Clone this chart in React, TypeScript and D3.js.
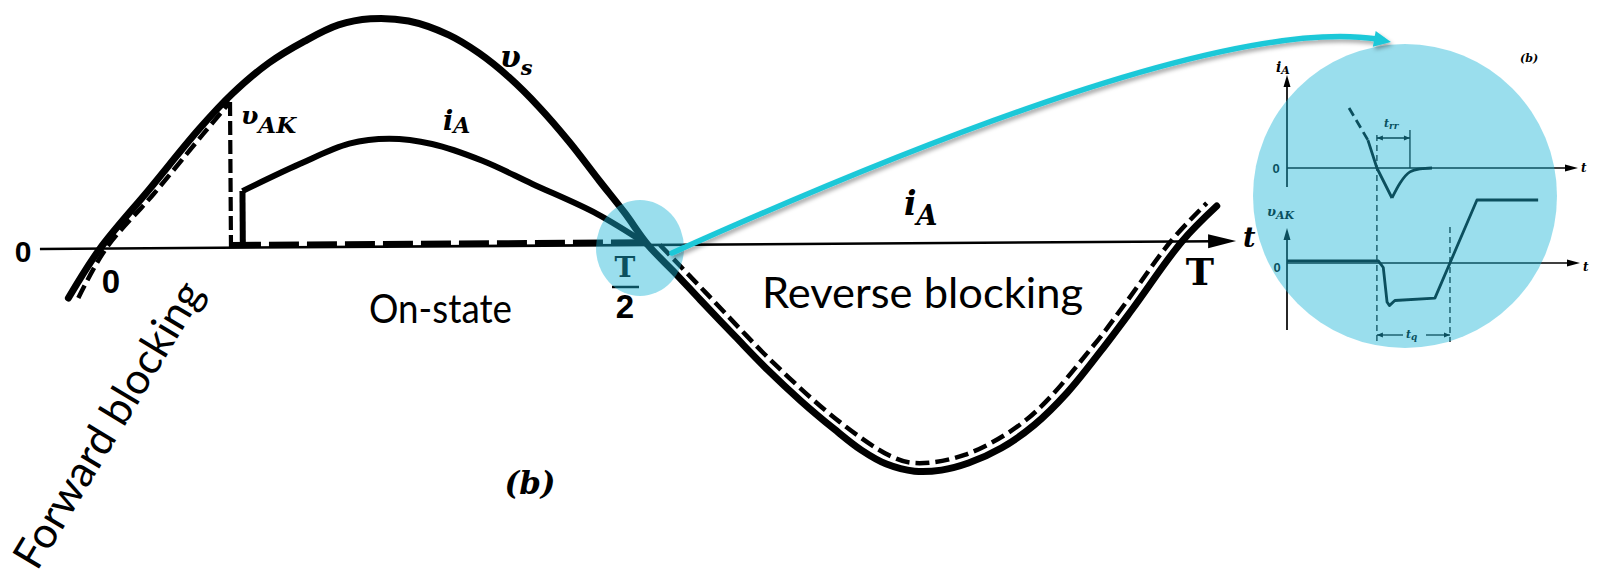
import React from "react";
import * as d3 from "d3";

// One supply period, T = 20 ms. Values are normalised to the peak of v_s.
const vsTime = [-0.59, 0, 0.924, 1.848, 2.458, 3.142, 3.808, 4.436, 5.028, 5.73, 6.47, 7.024, 7.579, 8.133, 8.688, 9.242, 9.704, 10.129,
  10.628, 11.091, 11.738, 12.329, 12.939, 13.549, 14.048, 14.51, 15.028, 15.527, 16.026, 16.636, 17.246, 17.856, 18.484, 19.076, 20.0, 20.647];
const vsValue = [-0.216, 0, 0.26, 0.522, 0.674, 0.809, 0.904, 0.974, 1.0, 0.989, 0.927, 0.847, 0.74, 0.608, 0.454, 0.282, 0.141, 0,
  -0.124, -0.243, -0.406, -0.552, -0.689, -0.813, -0.906, -0.968, -1.0, -0.996, -0.966, -0.901, -0.801, -0.661, -0.479, -0.295, 0, 0.154];

// v_AK while forward blocking (up to the gate pulse)
const vakFwdTime = [-0.407, 0.111, 1.006, 1.922, 2.421];
const vakFwdValue = [-0.216, 0, 0.24, 0.5, 0.639];
const halfPeriod = 10.129;
const vakOnValue = 0.012;
// v_AK while reverse blocking
const vakRevTime = [10.35, 11.213, 12.449, 13.656, 14.592, 15.044, 15.957, 17.129, 18.351, 18.943, 19.791, 20.462];
const vakRevValue = [0, -0.2165, -0.5246, -0.7827, -0.9337, -0.9643, -0.9298, -0.7724, -0.4542, -0.2709, 0, 0.1675];

// Anode current during conduction
const iATime = [2.64, 2.64, 3.7, 4.62, 5.36, 6.15, 7.08, 8.0, 9.19, 10.129];
const iAValue = [0, 0.248, 0.365, 0.453, 0.473, 0.449, 0.374, 0.271, 0.138, 0];

// Turn-off detail (arbitrary time units)
const dIaLeadTime = [21.4, 27.9];
const dIaLeadValue = [2.0, 0.93];
const dIaFallTime = [27.9, 31.0, 36.2];
const dIaFallValue = [0.93, 0, -1.0];
const dIaRecTime = [36.2, 39.0, 42.4, 46.0, 50.0];
const dIaRecValue = [-1.0, -0.5, -0.13, -0.03, 0];
const dVakTime = [0, 31.5, 33.2, 34.5, 35.3, 37.2, 51.0, 65.5, 86.6];
const dVakValue = [0.07, 0.07, -0.15, -1.3, -1.42, -1.25, -1.17, 2.1, 2.1];
const trrStart = 31.0;
const trrEnd = 42.4;
const tqEnd = 56.2;

const W = 1597;
const H = 578;

const x = d3.scaleLinear().domain([0, 20]).range([100, 1182]);
const y = d3.scaleLinear().domain([-1, 1]).range([473, 17]);

const ix = d3.scaleLinear().domain([0, 100]).range([1287, 1577]);
const iyI = d3.scaleLinear().domain([-1, 1]).range([198, 138]);
const iyV = d3.scaleLinear().domain([-1, 1]).range([293, 233]);

type P = [number, number];
const zip = (t: number[], v: number[]): P[] => t.map((d, i) => [d, v[i]]);

const smooth = d3.line<P>().x((d) => x(d[0])).y((d) => y(d[1])).curve(d3.curveCatmullRom.alpha(0.5));
const straight = d3.line<P>().x((d) => x(d[0])).y((d) => y(d[1]));
const insetI = d3.line<P>().x((d) => ix(d[0])).y((d) => iyI(d[1]));
const insetISmooth = d3.line<P>().x((d) => ix(d[0])).y((d) => iyI(d[1])).curve(d3.curveMonotoneX);
const insetV = d3.line<P>().x((d) => ix(d[0])).y((d) => iyV(d[1]));

function head(tx: number, ty: number, dx: number, dy: number, len: number, half: number) {
  const n = Math.hypot(dx, dy);
  const ux = dx / n;
  const uy = dy / n;
  const bx = tx - ux * len;
  const by = ty - uy * len;
  return `${tx},${ty} ${bx - uy * half},${by + ux * half} ${bx + uy * half},${by - ux * half}`;
}

const serif = "'DejaVu Serif', 'Liberation Serif', serif";
const sans = "'Liberation Sans', Arial, sans-serif";
const ppt = "Lato, 'Open Sans', sans-serif";

export default function App() {
  const vs = zip(vsTime, vsValue);
  const vakFwd = zip(vakFwdTime, vakFwdValue);
  const vakRev = zip(vakRevTime, vakRevValue);
  const iA = zip(iATime, iAValue);
  const firing = vakFwd[vakFwd.length - 1];
  const y0 = y(0);
  const axisEnd = x(21.0);

  // callout arrow from the T/2 crossing to the detail
  const arrow = d3.path();
  arrow.moveTo(672, 253);
  arrow.quadraticCurveTo(1206, 13, 1377, 39);

  const trrY = iyI(1.0);
  const tqY = 335;

  return (
    <svg width={W} height={H} style={{ position: "absolute", left: 0, top: 0, background: "#fff" }}>
      <defs>
        <filter id="shadow" x="-5%" y="-20%" width="110%" height="140%">
          <feDropShadow dx="2" dy="3" stdDeviation="2" floodColor="#000" floodOpacity="0.35" />
        </filter>
      </defs>
      <rect width={W} height={H} fill="#fff" />

      {/* main waveforms */}
      <g transform="rotate(-0.38 640 245)">
        <line x1={x(-1.11)} x2={axisEnd - 20} y1={y0} y2={y0} stroke="#000" strokeWidth={2.6} />
        <polygon points={head(axisEnd, y0, 1, 0, 28, 7)} fill="#000" />

        <path d={smooth(vs) ?? ""} fill="none" stroke="#000" strokeWidth={7} strokeLinecap="round" />

        <path d={smooth(vakFwd) ?? ""} fill="none" stroke="#000" strokeWidth={4.5} strokeDasharray="14 6" />
        <path d={straight([[firing[0], firing[1]], [firing[0], 0]]) ?? ""} fill="none" stroke="#000" strokeWidth={4.2} strokeDasharray="14 5" />
        <path d={straight([[firing[0], vakOnValue], [halfPeriod, vakOnValue]]) ?? ""} fill="none" stroke="#000" strokeWidth={6} strokeDasharray="30 8" />
        <path d={smooth(vakRev) ?? ""} fill="none" stroke="#000" strokeWidth={4.5} strokeDasharray="14 6" />

        <path d={straight(iA.slice(0, 2)) ?? ""} fill="none" stroke="#000" strokeWidth={6} />
        <path d={smooth(iA.slice(1)) ?? ""} fill="none" stroke="#000" strokeWidth={6} strokeLinejoin="round" />
      </g>

      {/* main labels */}
      <text x={23} y={262} fontFamily={sans} fontWeight="bold" fontSize={30} textAnchor="middle">0</text>
      <text x={111} y={293} fontFamily={sans} fontWeight="bold" fontSize={33} textAnchor="middle">0</text>
      <text x={500} y={67} fontFamily={serif} fontWeight="bold" fontStyle="italic" fontSize={30}>
        υ<tspan fontSize={21} dy={8}>s</tspan>
      </text>
      <text x={241} y={124} fontFamily={serif} fontWeight="bold" fontStyle="italic" fontSize={25}>
        υ<tspan fontSize={23} dy={9}>AK</tspan>
      </text>
      <text x={443} y={130} fontFamily={serif} fontWeight="bold" fontStyle="italic" fontSize={27}>
        i<tspan fontSize={22} dy={3}>A</tspan>
      </text>
      <text x={904} y={215} fontFamily={serif} fontWeight="bold" fontStyle="italic" fontSize={33}>
        i<tspan fontSize={27} dy={10}>A</tspan>
      </text>
      <text x={625} y={277} fontFamily={serif} fontWeight="bold" fontSize={28} textAnchor="middle">T</text>
      <line x1={612} x2={639} y1={287} y2={287} stroke="#000" strokeWidth={2.5} />
      <text x={625} y={318} fontFamily={sans} fontWeight="bold" fontSize={33} textAnchor="middle">2</text>
      <text x={1200} y={285} fontFamily={serif} fontWeight="bold" fontSize={38} textAnchor="middle">T</text>
      <text x={1243} y={247} fontFamily={serif} fontWeight="bold" fontStyle="italic" fontSize={27}>t</text>
      <text x={530} y={494} fontFamily={serif} fontWeight="bold" fontStyle="italic" fontSize={31} textAnchor="middle">(b)</text>

      {/* operating regions */}
      <text x={369} y={323} fontFamily={ppt} fontSize={40} textLength={143} lengthAdjust="spacingAndGlyphs">On-state</text>
      <text x={762} y={308} fontFamily={ppt} fontSize={43} textLength={321} lengthAdjust="spacingAndGlyphs">Reverse blocking</text>
      <text x={0} y={0} transform="translate(37 572) rotate(-59)" fontFamily={ppt} fontSize={43} textLength={326} lengthAdjust="spacingAndGlyphs">Forward blocking</text>

      {/* turn-off detail */}
      <g>
        <line x1={ix(0)} x2={ix(0)} y1={187} y2={85} stroke="#000" strokeWidth={1.7} />
        <polygon points={head(ix(0), 75, 0, -1, 12, 3.5)} fill="#000" />
        <line x1={ix(0)} x2={1568} y1={iyI(0)} y2={iyI(0)} stroke="#000" strokeWidth={1.7} />
        <polygon points={head(1578, iyI(0), 1, 0, 13, 3.5)} fill="#000" />
        <line x1={ix(0)} x2={ix(0)} y1={330} y2={238} stroke="#000" strokeWidth={1.7} />
        <polygon points={head(ix(0), 228, 0, -1, 12, 3.5)} fill="#000" />
        <line x1={ix(0)} x2={1570} y1={iyV(0)} y2={iyV(0)} stroke="#000" strokeWidth={1.7} />
        <polygon points={head(1580, iyV(0), 1, 0, 13, 3.5)} fill="#000" />

        <path d={insetI(zip(dIaLeadTime, dIaLeadValue)) ?? ""} fill="none" stroke="#000" strokeWidth={2.8} strokeDasharray="9 5" />
        <path d={insetI(zip(dIaFallTime, dIaFallValue)) ?? ""} fill="none" stroke="#000" strokeWidth={2.8} strokeLinejoin="round" />
        <path d={insetISmooth(zip(dIaRecTime, dIaRecValue)) ?? ""} fill="none" stroke="#000" strokeWidth={2.8} />
        <path d={insetV(zip(dVakTime, dVakValue)) ?? ""} fill="none" stroke="#000" strokeWidth={2.8} strokeLinejoin="round" />

        <line x1={ix(trrStart)} x2={ix(trrStart)} y1={trrY - 3} y2={342} stroke="#000" strokeWidth={1.3} strokeDasharray="6 4" />
        <line x1={ix(tqEnd)} x2={ix(tqEnd)} y1={227} y2={342} stroke="#000" strokeWidth={1.3} strokeDasharray="6 4" />
        <line x1={ix(trrEnd)} x2={ix(trrEnd)} y1={130} y2={iyI(0)} stroke="#000" strokeWidth={1.3} />
        <line x1={ix(trrStart)} x2={ix(trrEnd)} y1={trrY} y2={trrY} stroke="#000" strokeWidth={1.3} />
        <polygon points={head(ix(trrStart), trrY, -1, 0, 6, 2.5)} fill="#000" />
        <polygon points={head(ix(trrEnd), trrY, 1, 0, 6, 2.5)} fill="#000" />
        <line x1={ix(trrStart)} x2={1403} y1={tqY} y2={tqY} stroke="#000" strokeWidth={1.3} />
        <line x1={1426} x2={ix(tqEnd)} y1={tqY} y2={tqY} stroke="#000" strokeWidth={1.3} />
        <polygon points={head(ix(trrStart), tqY, -1, 0, 6, 2.5)} fill="#000" />
        <polygon points={head(ix(tqEnd), tqY, 1, 0, 6, 2.5)} fill="#000" />

        <text x={1276} y={72} fontFamily={serif} fontWeight="bold" fontStyle="italic" fontSize={14}>
          i<tspan fontSize={11} dy={2}>A</tspan>
        </text>
        <text x={1267} y={216} fontFamily={serif} fontWeight="bold" fontStyle="italic" fontSize={13}>
          υ<tspan fontSize={11} dy={3}>AK</tspan>
        </text>
        <text x={1276} y={173} fontFamily={sans} fontWeight="bold" fontSize={13} textAnchor="middle">0</text>
        <text x={1277} y={272} fontFamily={sans} fontWeight="bold" fontSize={13} textAnchor="middle">0</text>
        <text x={1581} y={172} fontFamily={serif} fontWeight="bold" fontStyle="italic" fontSize={12}>t</text>
        <text x={1583} y={271} fontFamily={serif} fontWeight="bold" fontStyle="italic" fontSize={12}>t</text>
        <text x={1520} y={62} fontFamily={serif} fontWeight="bold" fontStyle="italic" fontSize={11}>(b)</text>
        <text x={1384} y={127} fontFamily={serif} fontWeight="bold" fontStyle="italic" fontSize={11}>
          t<tspan fontSize={9} dy={2}>rr</tspan>
        </text>
        <text x={1406} y={338} fontFamily={serif} fontWeight="bold" fontStyle="italic" fontSize={11}>
          t<tspan fontSize={9} dy={2}>q</tspan>
        </text>
      </g>

      {/* highlight discs */}
      <ellipse cx={640} cy={248} rx={44} ry={48} fill="#1ab3d7" fillOpacity={0.44} />
      <circle cx={1405} cy={196} r={152} fill="#1ab3d7" fillOpacity={0.44} />

      {/* callout arrow */}
      <g filter="url(#shadow)">
        <path d={arrow.toString()} fill="none" stroke="#1ec8d8" strokeWidth={5.5} strokeLinecap="round" />
        <polygon points={head(1391, 42, 1, 0.18, 17, 8)} fill="#1ec8d8" />
      </g>
    </svg>
  );
}
